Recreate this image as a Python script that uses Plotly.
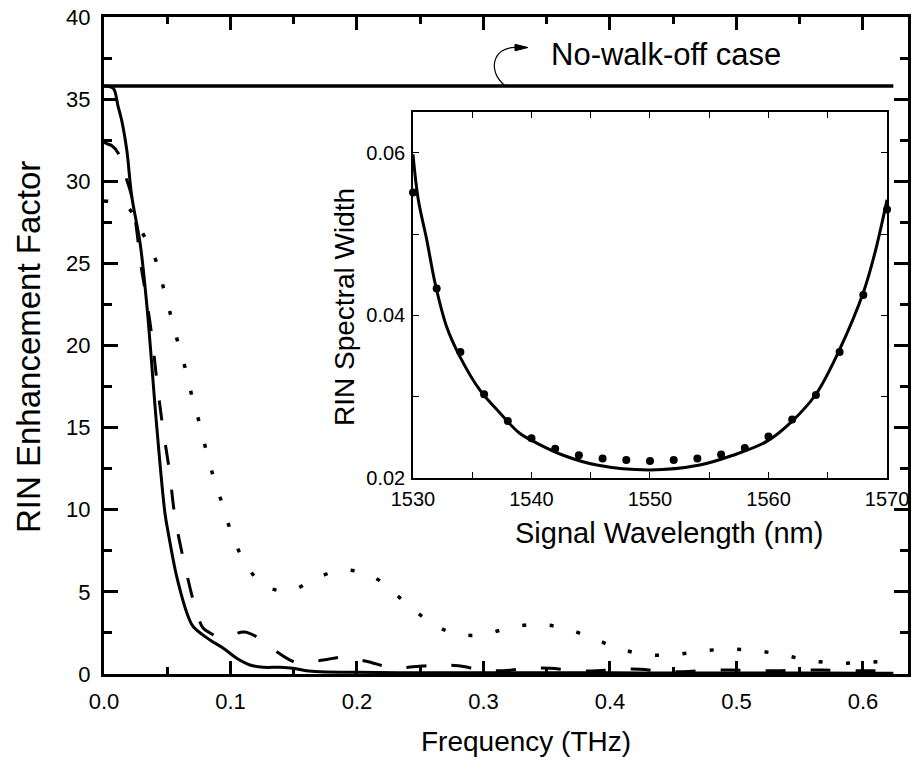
import plotly.graph_objects as go

# ---------------- data ----------------
# main panel: RIN enhancement factor vs frequency (THz)
freq_solid = [0.0, 0.0047, 0.0079, 0.011, 0.014, 0.018, 0.0219, 0.0285, 0.0338, 0.0417,
              0.0482, 0.0508, 0.0575, 0.0666, 0.0706, 0.0838, 0.0943, 0.1049, 0.1154,
              0.126, 0.139, 0.1496, 0.160, 0.171, 0.20, 0.25, 0.30, 0.35, 0.40, 0.45,
              0.50, 0.55, 0.60, 0.624]
rin_solid = [35.8, 35.75, 35.6, 34.6, 33.7, 31.9, 29.1, 26.25, 22.5, 15.06,
             9.79, 8.59, 5.93, 3.49, 2.88, 2.07, 1.57, 0.96, 0.55,
             0.41, 0.41, 0.35, 0.2, 0.14, 0.1, 0.08, 0.08, 0.07, 0.07, 0.06,
             0.06, 0.06, 0.05, 0.05]

freq_dashed = [0.0, 0.002, 0.0063, 0.0113, 0.0179, 0.0219, 0.0298, 0.0324, 0.0377, 0.0417,
               0.0464, 0.0516, 0.0561, 0.0635, 0.0727, 0.0783, 0.0838, 0.0904, 0.101,
               0.1107, 0.1207, 0.1365, 0.147, 0.155, 0.1734, 0.1919, 0.2024, 0.209,
               0.2285, 0.2443, 0.264, 0.28, 0.2996, 0.3154, 0.3368, 0.3526, 0.374,
               0.39, 0.409, 0.4237, 0.4448, 0.4577, 0.4814, 0.495, 0.516, 0.5318,
               0.5526, 0.568, 0.5897, 0.6055, 0.624]
rin_dashed = [32.4, 32.3, 32.16, 31.7, 30.1, 29.07, 24.6, 23.4, 20.65, 17.9,
              15.06, 12.42, 9.58, 6.74, 3.9, 2.8, 2.5, 2.24, 2.38,
              2.56, 2.27, 1.36, 0.85, 0.65, 0.85, 1.05, 0.85, 0.75,
              0.37, 0.44, 0.55, 0.5, 0.24, 0.2, 0.35, 0.35, 0.2,
              0.2, 0.29, 0.29, 0.14, 0.14, 0.24, 0.24, 0.2, 0.2,
              0.24, 0.24, 0.2, 0.2, 0.18]

freq_dotted = [0.0, 0.0179, 0.0298, 0.0403, 0.0464, 0.0522, 0.0579, 0.064, 0.0693, 0.0751,
               0.0806, 0.0864, 0.0935, 0.1004, 0.1096, 0.1259, 0.147, 0.1689, 0.1905,
               0.2116, 0.2334, 0.2545, 0.2761, 0.2978, 0.3191, 0.3407, 0.3623, 0.3836,
               0.4053, 0.4269, 0.4482, 0.4698, 0.4915, 0.5128, 0.5344, 0.556, 0.5773,
               0.599, 0.6206]
rin_dotted = [28.8, 28.46, 26.94, 25.32, 23.69, 22.0, 20.34, 18.68, 16.99, 15.37,
              13.68, 12.02, 10.35, 8.67, 7.05, 5.42, 5.07, 5.89, 6.33,
              5.97, 4.67, 3.35, 2.48, 2.38, 2.78, 3.03, 2.82, 2.27,
              1.6, 1.2, 1.16, 1.36, 1.52, 1.44, 1.2, 0.85, 0.67,
              0.69, 0.79]

freq_nowalk = [0.0, 0.624]
rin_nowalk = [35.8, 35.8]

# inset: RIN spectral width vs signal wavelength (nm)
wl_curve = [1530.0, 1530.45, 1531.16, 1531.86, 1532.84, 1533.97, 1535.65, 1537.34, 1539.0,
            1540.44, 1542.68, 1545.5, 1550.0, 1554.2, 1557.0, 1559.85, 1562.0, 1564.0,
            1566.0, 1568.0, 1569.0, 1570.0]
width_curve = [0.0598, 0.0542, 0.0493, 0.0440, 0.0386, 0.0349, 0.0308, 0.0280, 0.0255,
               0.0243, 0.0228, 0.0216, 0.0210, 0.0216, 0.0228, 0.0245, 0.0270, 0.0303,
               0.0358, 0.0428, 0.0478, 0.0542]

wl_points = [1530, 1532, 1534, 1536, 1538, 1540, 1542, 1544, 1546, 1548, 1550,
             1552, 1554, 1556, 1558, 1560, 1562, 1564, 1566, 1568, 1570]
width_points = [0.0551, 0.0433, 0.0355, 0.0303, 0.0270, 0.0249, 0.0236, 0.0228, 0.0224,
                0.0222, 0.0221, 0.0222, 0.0224, 0.0229, 0.0237, 0.0251, 0.0272, 0.0302,
                0.0355, 0.0425, 0.0530]

FONT = "Liberation Sans, Arial, Helvetica, sans-serif"
BLACK = "black"

fig = go.Figure()

fig.add_trace(go.Scatter(x=freq_nowalk, y=rin_nowalk, mode="lines",
                         line=dict(color=BLACK, width=3.5), hoverinfo="skip"))
fig.add_trace(go.Scatter(x=freq_dotted, y=rin_dotted, mode="lines",
                         line=dict(color=BLACK, width=3.5, dash="4px,23.5px", shape="spline"),
                         hoverinfo="skip"))
fig.add_trace(go.Scatter(x=freq_dashed, y=rin_dashed, mode="lines",
                         line=dict(color=BLACK, width=3, dash="20px,25px", shape="spline"),
                         hoverinfo="skip"))
fig.add_trace(go.Scatter(x=freq_solid, y=rin_solid, mode="lines",
                         line=dict(color=BLACK, width=3, shape="spline"), hoverinfo="skip"))

# inset
fig.add_trace(go.Scatter(x=wl_curve, y=width_curve, mode="lines", xaxis="x2", yaxis="y2",
                         line=dict(color=BLACK, width=3, shape="spline"), hoverinfo="skip"))
fig.add_trace(go.Scatter(x=wl_points, y=width_points, mode="markers", xaxis="x2", yaxis="y2",
                         marker=dict(color=BLACK, size=8), cliponaxis=False,
                         hoverinfo="skip"))

main_tick_font = dict(family=FONT, size=22, color=BLACK)
inset_tick_font = dict(family=FONT, size=20, color=BLACK)

fig.update_layout(
    template="none",
    width=912, height=769,
    margin=dict(l=104, r=4, t=17, b=95, autoexpand=False),
    plot_bgcolor="white", paper_bgcolor="white",
    showlegend=False,
    font=dict(family=FONT, color=BLACK),
    xaxis=dict(range=[0, 0.6356], tick0=0, dtick=0.1, tickformat=".1f",
               ticks="inside", ticklen=13, tickwidth=3, tickcolor=BLACK,
               minor=dict(dtick=0.05, ticks="inside", ticklen=7, tickwidth=3,
                          tickcolor=BLACK, showgrid=False),
               showline=True, linewidth=3, linecolor=BLACK, mirror="allticks",
               showgrid=False, zeroline=False, tickfont=main_tick_font,
               ticklabelstandoff=6, automargin=False),
    yaxis=dict(range=[0, 40], tick0=0, dtick=5,
               ticks="inside", ticklen=14, tickwidth=3, tickcolor=BLACK,
               minor=dict(dtick=2.5, ticks="inside", ticklen=8, tickwidth=3,
                          tickcolor=BLACK, showgrid=False),
               showline=True, linewidth=3, linecolor=BLACK, mirror="allticks",
               showgrid=False, zeroline=False, tickfont=main_tick_font,
               ticklabelstandoff=6, automargin=False),
    xaxis2=dict(domain=[0.3843, 0.9739], anchor="y2", range=[1530, 1570],
                tick0=1530, dtick=10, ticks="inside", ticklen=6, tickwidth=1,
                tickcolor=BLACK,
                minor=dict(dtick=5, ticks="inside", ticklen=6, tickwidth=1,
                           tickcolor=BLACK, showgrid=False),
                showline=True, linewidth=1.5, linecolor=BLACK, mirror="allticks",
                showgrid=False, zeroline=False, tickfont=inset_tick_font,
                ticklabelstandoff=2, automargin=False),
    yaxis2=dict(domain=[0.2983, 0.8554], anchor="x2", range=[0.02, 0.065],
                tick0=0, dtick=0.02, tickformat=".2f", ticks="inside", ticklen=6,
                tickwidth=1, tickcolor=BLACK,
                minor=dict(dtick=0.01, ticks="inside", ticklen=6, tickwidth=1,
                           tickcolor=BLACK, showgrid=False),
                showline=True, linewidth=1.5, linecolor=BLACK, mirror="allticks",
                showgrid=False, zeroline=False, tickfont=inset_tick_font,
                ticklabelstandoff=2, automargin=False),
)

fig.add_annotation(text="Frequency (THz)", xref="paper", yref="paper",
                   x=(526 - 104) / 804, y=(674 - 741) / 657, xanchor="center",
                   yanchor="middle", showarrow=False,
                   font=dict(family=FONT, size=28, color=BLACK))
fig.add_annotation(text="RIN Enhancement Factor", xref="paper", yref="paper",
                   x=(28 - 104) / 804, y=(674 - 347) / 657, xanchor="center",
                   yanchor="middle", textangle=-90, showarrow=False,
                   font=dict(family=FONT, size=33, color=BLACK))
fig.add_annotation(text="Signal Wavelength (nm)", xref="paper", yref="paper",
                   x=(669 - 104) / 804, y=(674 - 533) / 657, xanchor="center",
                   yanchor="middle", showarrow=False,
                   font=dict(family=FONT, size=29, color=BLACK))
fig.add_annotation(text="RIN Spectral Width", xref="paper", yref="paper",
                   x=(344 - 104) / 804, y=(674 - 307) / 657, xanchor="center",
                   yanchor="middle", textangle=-90, showarrow=False,
                   font=dict(family=FONT, size=28, color=BLACK))
fig.add_annotation(text="No-walk-off case", xref="x", yref="y",
                   x=(549 - 104) / 1265, y=(674 - 55) / 16.42, xanchor="left",
                   yanchor="middle", showarrow=False,
                   font=dict(family=FONT, size=31, color=BLACK))

# curved pointer from the no-walk-off line to its label
def px2d(px, py):
    return (px - 104) / 1265, (674 - py) / 16.42

p0 = px2d(505, 86); c1 = px2d(486, 70); c2 = px2d(494, 47); p3 = px2d(516, 47.5)
fig.add_shape(type="path", xref="x", yref="y",
              path=f"M {p0[0]},{p0[1]} C {c1[0]},{c1[1]} {c2[0]},{c2[1]} {p3[0]},{p3[1]}",
              line=dict(color=BLACK, width=1.2))
a1 = px2d(515, 44.5); a2 = px2d(528, 47.7); a3 = px2d(515, 51)
fig.add_shape(type="path", xref="x", yref="y",
              path=f"M {a1[0]},{a1[1]} L {a2[0]},{a2[1]} L {a3[0]},{a3[1]} Z",
              fillcolor=BLACK, line=dict(color=BLACK, width=1))

fig.write_html("out.html")
